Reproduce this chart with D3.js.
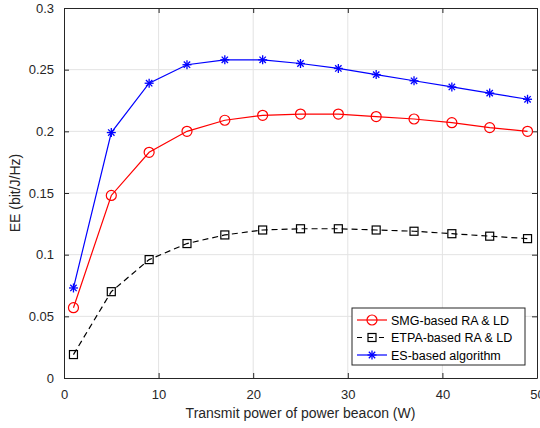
<!DOCTYPE html>
<meta charset="utf-8">
<head>
<script src="https://d3js.org/d3.v7.min.js"></script>
<style>
  body { margin: 0; background: #fff; }
  text { font-family: "Liberation Sans", Arial, sans-serif; }
</style>
</head>
<body>
<div id="chart"></div>
<script>
// data
var power = [1, 5, 9, 13, 17, 21, 25, 29, 33, 37, 41, 45, 49];
var smg  = [0.057, 0.148, 0.183, 0.200, 0.209, 0.213, 0.214, 0.214, 0.212, 0.210, 0.207, 0.203, 0.200];
var etpa = [0.019, 0.070, 0.096, 0.109, 0.116, 0.120, 0.121, 0.121, 0.120, 0.119, 0.117, 0.115, 0.113];
var es   = [0.073, 0.199, 0.239, 0.254, 0.258, 0.258, 0.255, 0.251, 0.246, 0.241, 0.236, 0.231, 0.226];
var xTicks = [0, 10, 20, 30, 40, 50];
var yTicks = [0, 0.05, 0.1, 0.15, 0.2, 0.25, 0.3];
var seriesNames = ["SMG-based RA & LD", "ETPA-based RA & LD", "ES-based algorithm"];

var margin = {top: 8, right: 3, bottom: 50, left: 64},
    width = 540 - margin.left - margin.right,
    height = 428 - margin.top - margin.bottom;

var svg = d3.select("#chart")
  .append("svg")
    .attr("width", 540)
    .attr("height", 428)
  .append("g")
    .attr("transform", "translate(" + margin.left + "," + margin.top + ")");

var x = d3.scaleLinear().domain([0, 50]).range([0, width]);
var y = d3.scaleLinear().domain([0, 0.3]).range([height, 0]);

// grid
svg.append("g").selectAll("line").data(xTicks.slice(1, -1)).enter().append("line")
  .attr("x1", function(d) { return x(d); }).attr("x2", function(d) { return x(d); })
  .attr("y1", 0).attr("y2", height)
  .attr("stroke", "#e3e3e3").attr("stroke-width", 1);
svg.append("g").selectAll("line").data(yTicks.slice(1, -1)).enter().append("line")
  .attr("y1", function(d) { return y(d); }).attr("y2", function(d) { return y(d); })
  .attr("x1", 0).attr("x2", width)
  .attr("stroke", "#e3e3e3").attr("stroke-width", 1);

// axes (MATLAB style, ticks inside, box)
var axColor = "#262626";
var fmtY = function(d) { return d === 0 ? "0" : d3.format("~g")(d); };
var gx = svg.append("g").attr("transform", "translate(0," + height + ")")
  .call(d3.axisBottom(x).tickValues(xTicks).tickSizeInner(-5).tickSizeOuter(0).tickPadding(12));
var gy = svg.append("g")
  .call(d3.axisLeft(y).tickValues(yTicks).tickFormat(fmtY).tickSizeInner(-5).tickSizeOuter(0).tickPadding(10));
var gx2 = svg.append("g")
  .call(d3.axisTop(x).tickValues(xTicks).tickSizeInner(-5).tickSizeOuter(0).tickFormat(""));
var gy2 = svg.append("g").attr("transform", "translate(" + width + ",0)")
  .call(d3.axisRight(y).tickValues(yTicks).tickSizeInner(-5).tickSizeOuter(0).tickFormat(""));
[gx, gy, gx2, gy2].forEach(function(g) {
  g.selectAll("path, line").attr("stroke", axColor);
  g.selectAll("text").attr("fill", axColor).style("font-size", "13px")
    .style("font-family", "Liberation Sans, Arial, sans-serif");
});

// axis labels
svg.append("text")
  .attr("x", width / 2).attr("y", height + 40)
  .attr("text-anchor", "middle").attr("fill", axColor).style("font-size", "14px")
  .text("Transmit power of power beacon (W)");
svg.append("text")
  .attr("transform", "translate(" + (-44) + "," + (height / 2) + ")rotate(-90)")
  .attr("text-anchor", "middle").attr("fill", axColor).style("font-size", "14px")
  .text("EE (bit/J/Hz)");

// series
var series = [
  {name: seriesNames[0], values: smg, color: "#ff0000", dash: null, marker: "circle"},
  {name: seriesNames[1], values: etpa, color: "#000000", dash: "6,4", marker: "square"},
  {name: seriesNames[2], values: es, color: "#0000ff", dash: null, marker: "star"}
];

var line = d3.line()
  .x(function(d) { return x(d[0]); })
  .y(function(d) { return y(d[1]); });

function drawMarker(g, type, color, cx, cy) {
  if (type === "circle") {
    g.append("circle").attr("cx", cx).attr("cy", cy).attr("r", 5)
      .attr("fill", "none").attr("stroke", color).attr("stroke-width", 1.2);
  } else if (type === "square") {
    g.append("rect").attr("x", cx - 4).attr("y", cy - 4).attr("width", 8).attr("height", 8)
      .attr("fill", "none").attr("stroke", color).attr("stroke-width", 1.2);
  } else {
    var r = 4.5;
    [0, 45, 90, 135].forEach(function(a) {
      var rad = a * Math.PI / 180;
      g.append("line")
        .attr("x1", cx - r * Math.cos(rad)).attr("y1", cy - r * Math.sin(rad))
        .attr("x2", cx + r * Math.cos(rad)).attr("y2", cy + r * Math.sin(rad))
        .attr("stroke", color).attr("stroke-width", 1.3);
    });
  }
}

series.forEach(function(s) {
  var pts = power.map(function(p, i) { return [p, s.values[i]]; });
  svg.append("path")
    .datum(pts)
    .attr("d", line)
    .attr("fill", "none")
    .attr("stroke", s.color)
    .attr("stroke-width", 1.2)
    .attr("stroke-dasharray", s.dash);
  var mg = svg.append("g");
  pts.forEach(function(p) { drawMarker(mg, s.marker, s.color, x(p[0]), y(p[1])); });
});

// legend
var lg = svg.append("g").attr("transform", "translate(" + (352 - margin.left) + "," + (308 - margin.top) + ")");
lg.append("rect").attr("width", 173).attr("height", 57)
  .attr("fill", "#fff").attr("stroke", axColor).attr("stroke-width", 1);
series.forEach(function(s, i) {
  var ly = 12 + i * 17.5;
  lg.append("line").attr("x1", 5).attr("x2", 35).attr("y1", ly).attr("y2", ly)
    .attr("stroke", s.color).attr("stroke-width", 1.2).attr("stroke-dasharray", s.dash ? "5,6" : null);
  drawMarker(lg, s.marker, s.color, 20, ly);
  lg.append("text").attr("x", 39).attr("y", ly + 4.5)
    .attr("fill", "#000").style("font-size", "12.5px").text(s.name);
});
</script>
</body>
